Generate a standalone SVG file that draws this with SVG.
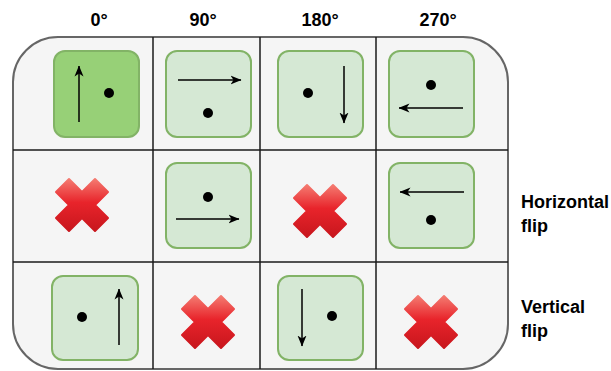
<svg xmlns="http://www.w3.org/2000/svg" width="611" height="371" viewBox="0 0 611 371">
<style>
.lbl{font-family:"Liberation Sans",Arial,sans-serif;font-weight:bold;font-size:18px;fill:#000}
.tile{fill:#d5e8d4;stroke:#82b366;stroke-width:2}
.tile0{fill:#97d077;stroke:#82b366;stroke-width:2}
.arr{stroke:#000;stroke-width:1.5;fill:none;marker-end:url(#ah)}
.grid{stroke:#1a1a1a;stroke-width:1.5}
.x{fill:url(#red);stroke:url(#red);stroke-width:2;stroke-linejoin:round}
</style>
<defs>
<marker id="ah" viewBox="0 0 11 10" refX="10.5" refY="5" markerWidth="11" markerHeight="10" markerUnits="userSpaceOnUse" orient="auto">
<path d="M0,0.5 L11,5 L0,9.5 L3,5 Z" fill="#000"/>
</marker>
<linearGradient id="red" x1="0" y1="0" x2="0" y2="1">
<stop offset="0" stop-color="#f47a70"/>
<stop offset="0.45" stop-color="#e8242b"/>
<stop offset="1" stop-color="#c8161d"/>
</linearGradient>
<polygon id="cross" class="x" points="0,-13 13,-26 26,-13 13,0 26,13 13,26 0,13 -13,26 -26,13 -13,0 -26,-13 -13,-26"/>
</defs>
<g id="frame">
<rect x="13" y="37" width="495" height="332" rx="45" ry="45" fill="#f5f5f5" stroke="#666" stroke-width="2"/>
</g>
<g id="grid" class="grid">
<line x1="153" y1="37" x2="153" y2="369"/>
<line x1="260" y1="37" x2="260" y2="369"/>
<line x1="376" y1="37" x2="376" y2="369"/>
<line x1="13" y1="150" x2="508" y2="150"/>
<line x1="13" y1="262" x2="508" y2="262"/>
</g>
<g id="labels">
<text class="lbl" x="99" y="26" text-anchor="middle">0°</text>
<text class="lbl" x="203" y="26" text-anchor="middle">90°</text>
<text class="lbl" x="320" y="26" text-anchor="middle">180°</text>
<text class="lbl" x="438" y="26" text-anchor="middle">270°</text>
<text class="lbl" x="521" y="208">Horizontal</text>
<text class="lbl" x="521" y="232">flip</text>
<text class="lbl" x="521" y="313">Vertical</text>
<text class="lbl" x="521" y="337">flip</text>
</g>
<g id="r1c1">
<rect class="tile0" x="54" y="51" width="85" height="86" rx="11"/>
<path class="arr" d="M79,122 L79,66"/>
<circle cx="109" cy="93" r="5"/>
</g>
<g id="r1c2">
<rect class="tile" x="166" y="51" width="85" height="86" rx="11"/>
<path class="arr" d="M178,80 L241,80"/>
<circle cx="208" cy="113" r="5"/>
</g>
<g id="r1c3">
<rect class="tile" x="278" y="51" width="85" height="86" rx="11"/>
<path class="arr" d="M344,66 L344,123"/>
<circle cx="308" cy="93" r="5"/>
</g>
<g id="r1c4">
<rect class="tile" x="389" y="51" width="85" height="86" rx="11"/>
<path class="arr" d="M463,108 L399,108"/>
<circle cx="431" cy="85" r="5"/>
</g>
<g id="r2c1"><use href="#cross" x="82" y="205"/></g>
<g id="r2c2">
<rect class="tile" x="166" y="163" width="85" height="85" rx="11"/>
<path class="arr" d="M176,219 L239,219"/>
<circle cx="208" cy="197" r="5"/>
</g>
<g id="r2c3"><use href="#cross" x="320" y="211"/></g>
<g id="r2c4">
<rect class="tile" x="389" y="163" width="85" height="85" rx="11"/>
<path class="arr" d="M464,192 L400,192"/>
<circle cx="431" cy="220" r="5"/>
</g>
<g id="r3c1">
<rect class="tile" x="52" y="276" width="86" height="84" rx="11"/>
<path class="arr" d="M119,345 L119,289"/>
<circle cx="82" cy="317" r="5"/>
</g>
<g id="r3c2"><use href="#cross" x="208" y="322"/></g>
<g id="r3c3">
<rect class="tile" x="278" y="276" width="85" height="84" rx="11"/>
<path class="arr" d="M302,289 L302,346"/>
<circle cx="332" cy="316" r="5"/>
</g>
<g id="r3c4"><use href="#cross" x="431" y="322"/></g>
</svg>
